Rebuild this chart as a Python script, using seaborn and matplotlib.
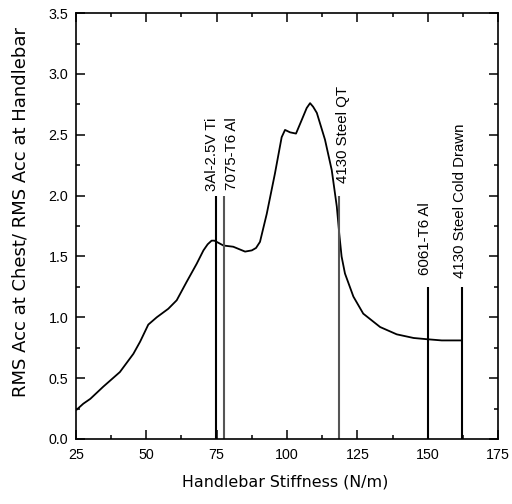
import matplotlib
matplotlib.use("Agg")
import matplotlib.pyplot as plt
from matplotlib.ticker import MultipleLocator
import numpy as np
import pandas as pd
import seaborn as sns

# Transmissibility curve: chest / handlebar RMS acceleration vs. handlebar stiffness
stiffness = [25.2, 27.6, 30.1, 34.7, 40.6, 45.4, 47.8, 50.7, 53.7, 57.8, 60.8,
             64.3, 67.9, 70.3, 71.8, 73.2, 74.2, 75.0, 77.4, 80.9, 85.1, 87.5,
             89.0, 90.4, 92.8, 95.7, 98.1, 99.3, 101.1, 103.2, 105.2, 107.0,
             108.2, 109.3, 110.6, 113.5, 115.9, 117.7, 118.6, 119.4, 120.6,
             123.6, 127.1, 133.1, 139.0, 145.0, 149.7, 155.0, 162.1]
rms_ratio = [0.24, 0.29, 0.33, 0.43, 0.55, 0.70, 0.80, 0.94, 1.00, 1.07, 1.14,
             1.29, 1.44, 1.55, 1.60, 1.63, 1.63, 1.62, 1.59, 1.58, 1.54, 1.55,
             1.57, 1.62, 1.85, 2.18, 2.48, 2.54, 2.52, 2.51, 2.62, 2.72,
             2.76, 2.73, 2.68, 2.46, 2.21, 1.91, 1.68, 1.50, 1.36,
             1.17, 1.03, 0.92, 0.86, 0.83, 0.82, 0.81, 0.81]

# Handlebar materials and their stiffness
materials = ["3Al-2.5V Ti", "7075-T6 Al", "4130 Steel QT", "6061-T6 Al",
             "4130 Steel Cold Drawn"]
material_stiffness = [74.8, 77.6, 118.6, 150.0, 162.1]
marker_height = [2.0, 2.0, 2.0, 1.25, 1.25]
marker_color = ["black", "#555555", "#555555", "black", "black"]
# where each rotated material name sits (x, bottom y)
label_x = [73.4, 80.6, 119.8, 149.1, 161.5]
label_y = [2.04, 2.05, 2.10, 1.35, 1.32]

x_ticks = [25, 50, 75, 100, 125, 150, 175]
y_ticks = [0.0, 0.5, 1.0, 1.5, 2.0, 2.5, 3.0, 3.5]

sns.set_style("ticks")
plt.rcParams["font.family"] = ["Liberation Sans", "DejaVu Sans"]
plt.rcParams.update({"text.color": "black", "axes.labelcolor": "black",
                     "xtick.color": "black", "ytick.color": "black"})

fig = plt.figure(figsize=(5.12, 5.04), dpi=100)
ax = fig.add_axes([0.1484, 0.129, 0.8243, 0.845])

curve = pd.DataFrame({"stiffness": stiffness, "ratio": rms_ratio})
sns.lineplot(data=curve, x="stiffness", y="ratio", ax=ax, color="black",
             linewidth=1.3, sort=False, estimator=None)

ax.vlines(material_stiffness, 0, marker_height, colors=marker_color,
          linewidth=1.5)
for name, lx, ly in zip(materials, label_x, label_y):
    ax.text(lx, ly, name, rotation=90, ha="center", va="bottom",
            fontsize=10.8, color="black")

ax.set_xlim(25, 175)
ax.set_ylim(0, 3.5)
ax.set_xticks(x_ticks)
ax.set_xticklabels([str(v) for v in x_ticks])
ax.set_yticks(y_ticks)
ax.set_yticklabels([f"{v:.1f}" for v in y_ticks])
ax.xaxis.set_minor_locator(MultipleLocator(12.5))
ax.yaxis.set_minor_locator(MultipleLocator(0.25))

ax.tick_params(which="both", direction="in", top=True, right=True,
               color="black", width=1.1)
ax.tick_params(which="major", length=6.5, labelsize=10.3, labelcolor="black")
ax.tick_params(which="minor", length=3.2)
ax.tick_params(axis="x", which="major", pad=6.5)
ax.tick_params(axis="y", which="major", pad=5.5)
for side in ax.spines.values():
    side.set_visible(True)
    side.set_linewidth(1.2)
    side.set_color("black")

ax.set_xlabel("")
ax.set_ylabel("")
fig.text(0.557, 0.044, "Handlebar Stiffness (N/m)", ha="center", va="center",
         fontsize=11.4, family="DejaVu Sans", color="black")
fig.text(0.041, 0.580, "RMS Acc at Chest/ RMS Acc at Handlebar",
         rotation=90, ha="center", va="center", fontsize=13,
         family="DejaVu Sans", color="black")

fig.savefig("out.png", dpi=100, facecolor="white")
